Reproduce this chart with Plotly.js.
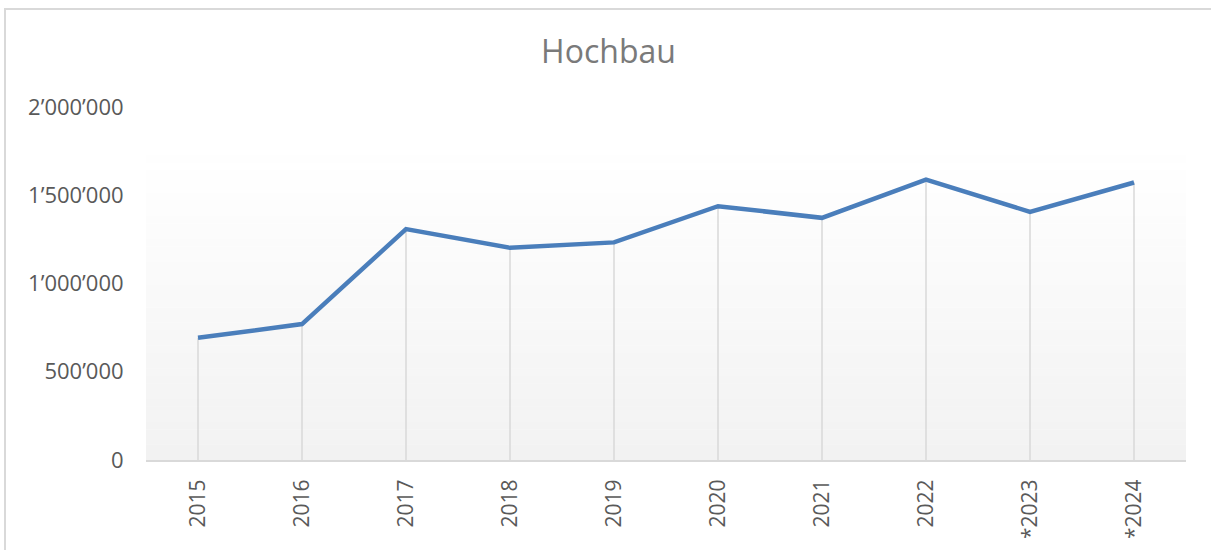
<!DOCTYPE html>
<html>
<head>
<meta charset="utf-8">
<script src="https://cdn.plot.ly/plotly-3.0.1.min.js"></script>
<style>html,body{margin:0;padding:0;background:#fff;}#chart{width:1211px;height:550px;}</style>
</head>
<body>
<div id="chart"></div>
<script>
// Data
var categories = ['2015','2016','2017','2018','2019','2020','2021','2022','*2023','*2024'];
var values = [692500, 770000, 1308000, 1202000, 1233000, 1438000, 1372000, 1589000, 1406000, 1572000];
var yTickVals = [0, 500000, 1000000, 1500000, 2000000];
var yTickText = ['0', '500’000', '1’000’000', '1’500’000', '2’000’000'];

// Layout geometry (pixels)
var W = 1211, H = 550;
var mL = 146, mR = 25, mT = 107, mB = 90;
var plotW = W - mL - mR, plotH = H - mT - mB;
function px2paperX(p){ return (p - mL) / plotW; }
function px2paperY(p){ return (H - mB - p) / plotH; }

// Drop lines built from the data
var dropX = [], dropY = [];
categories.forEach(function(c, i){
  dropX.push(c, c, null);
  dropY.push(0, values[i], null);
});

var traces = [
  {
    x: dropX, y: dropY, type: 'scatter', mode: 'lines',
    line: {color: '#d9d9d9', width: 1.5},
    hoverinfo: 'skip', showlegend: false
  },
  {
    x: categories, y: values, type: 'scatter', mode: 'lines',
    line: {color: '#4a7ebb', width: 4.5},
    showlegend: false, name: 'Hochbau'
  }
];

// Gradient background of plot area (stacked bands)
var shapes = [];
var gTop = px2paperY(155), nBands = 40;
for (var k = 0; k < nBands; k++) {
  var t0 = k / nBands, t1 = (k + 1) / nBands;
  var c = Math.round(255 - (255 - 242) * (1 - (t0 + t1) / 2));
  if (k === nBands - 1) c = 254;
  shapes.push({
    type: 'rect', xref: 'paper', yref: 'paper', layer: 'below',
    x0: 0, x1: 1, y0: gTop * t0, y1: gTop * t1 + 0.001,
    fillcolor: 'rgb(' + c + ',' + c + ',' + c + ')', line: {width: 0}
  });
}
// Chart border
shapes.push({
  type: 'rect', xref: 'paper', yref: 'paper', layer: 'below',
  x0: px2paperX(5), x1: px2paperX(1230), y0: px2paperY(570), y1: px2paperY(9),
  fillcolor: 'rgba(0,0,0,0)', line: {color: '#d9d9d9', width: 2}
});

var layout = {
  width: W, height: H,
  margin: {l: mL, r: mR, t: mT, b: mB, pad: 0},
  paper_bgcolor: '#ffffff', plot_bgcolor: 'rgba(0,0,0,0)',
  font: {family: 'Open Sans, sans-serif', color: '#595959'},
  title: {
    text: 'Hochbau', font: {size: 32, color: '#7a7a7a', family: 'Open Sans, sans-serif'},
    x: 608.5 / W, xref: 'container', xanchor: 'center', y: 1 - 52 / H, yref: 'container', yanchor: 'middle'
  },
  xaxis: {
    type: 'category', range: [-0.5, categories.length - 0.5],
    showgrid: false, zeroline: false,
    showline: true, linecolor: '#d9d9d9', linewidth: 2,
    ticks: 'outside', ticklen: 9, tickcolor: 'rgba(0,0,0,0)',
    tickangle: -90, tickfont: {size: 21, color: '#595959'}
  },
  yaxis: {
    range: [0, 2000000], showgrid: false, zeroline: false, showline: false,
    tickvals: yTickVals, ticktext: yTickText,
    ticks: 'outside', ticklen: 17, tickcolor: 'rgba(0,0,0,0)',
    tickfont: {size: 22, color: '#595959'}
  },
  shapes: shapes,
  showlegend: false
};

Plotly.newPlot('chart', traces, layout, {displayModeBar: false, staticPlot: true});
</script>
</body>
</html>
